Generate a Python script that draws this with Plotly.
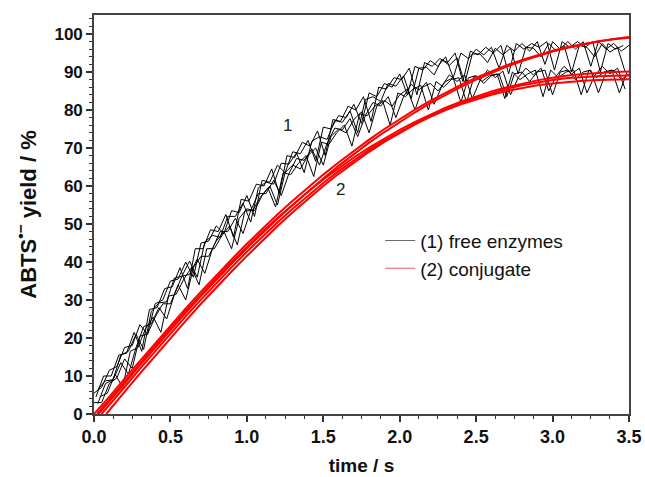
import numpy as np
import plotly.graph_objects as go

# ---------------- data ----------------
# free enzymes, replicates sampled every 0.05 s; each with its own first sample time
BLACK_U1 = [5.5, 7.0, 11.5, 12.5, 17.5, 18.0, 23.5, 21.0, 29.0, 30.0,
            35.0, 35.5, 40.0, 36.0, 45.0, 45.5, 49.5, 47.5, 53.5, 53.0,
            57.5, 52.0, 61.5, 61.0, 65.5, 63.5, 69.0, 68.5, 72.0, 66.5,
            75.5, 75.0, 78.5, 78.0, 81.5, 76.5, 84.5, 83.5, 87.0, 86.0,
            89.5, 84.0, 91.5, 90.5, 93.0, 91.5, 94.0, 88.5, 95.0, 93.5,
            96.0, 94.5, 96.5, 91.0, 97.0, 95.5, 97.5, 95.5, 98.0, 92.0,
            98.0, 96.0, 98.0, 96.0, 98.0, 91.5, 98.0, 96.0, 97.5, 95.5,
            97.0]
BLACK_U2 = [6.5, 8.75, 9.0, 15.5, 16.5, 21.0, 17.0, 27.0, 29.25, 29.5,
            35.75, 36.25, 40.25, 36.0, 45.25, 47.0, 46.5, 52.0, 52.0, 55.5,
            50.5, 59.5, 61.0, 60.5, 66.0, 65.75, 68.75, 63.5, 71.75, 73.0,
            72.25, 77.25, 76.75, 79.75, 74.0, 82.75, 83.5, 82.25, 87.0, 86.25,
            89.0, 83.0, 91.0, 91.25, 89.25, 93.25, 91.75, 93.75, 87.0, 94.75,
            94.75, 92.5, 96.25, 94.5, 96.25, 89.5, 96.5, 96.25, 94.0, 97.5,
            95.5, 97.0, 90.0, 97.0, 96.5, 94.0, 97.5, 95.25, 96.5, 90.0]
BLACK_U3 = [4.5, 10.0, 10.0, 15.5, 16.0, 21.5, 16.5, 27.5, 28.0, 33.0,
            33.5, 38.5, 33.0, 43.5, 43.5, 48.5, 48.0, 52.5, 46.5, 56.5,
            56.0, 60.5, 60.0, 64.5, 58.0, 68.0, 67.5, 71.5, 70.5, 74.5,
            68.0, 77.5, 77.0, 81.0, 80.0, 83.5, 77.0, 86.0, 85.5, 88.5,
            88.0, 91.0, 84.0, 92.5, 91.5, 93.5, 92.5, 95.0, 87.5, 95.5,
            94.5, 96.5, 95.0, 97.0, 89.5, 97.5, 96.0, 97.5, 96.5, 98.0,
            90.5, 98.0, 96.5, 98.0, 96.5, 98.0, 90.0, 97.5, 96.0, 97.0]
BLACK_L1 = [3.0, 3.0, 8.0, 9.5, 14.5, 12.0, 20.5, 21.0, 25.5, 29.0,
            29.0, 34.0, 30.0, 38.5, 41.5, 41.5, 45.5, 48.0, 43.5, 51.5,
            54.0, 53.5, 57.5, 60.0, 55.0, 63.5, 65.5, 64.5, 68.0, 70.0,
            65.5, 73.0, 75.0, 74.0, 77.5, 79.5, 74.0, 81.0, 82.5, 81.0,
            84.0, 85.5, 80.0, 86.0, 87.0, 85.0, 87.5, 88.5, 82.0, 88.5,
            89.0, 87.0, 89.0, 89.5, 83.5, 89.5, 90.0, 87.5, 90.0, 90.5,
            84.0, 90.0, 90.5, 88.0, 90.0, 90.5, 84.5, 90.0, 90.5, 88.0,
            89.5]
BLACK_L2 = [2.75, 8.0, 9.0, 13.5, 10.5, 17.5, 23.0, 23.75, 28.0, 25.0,
            31.25, 36.25, 36.75, 40.75, 37.0, 43.5, 48.0, 48.0, 51.5, 47.5,
            53.5, 58.0, 58.0, 61.5, 57.5, 63.25, 67.25, 66.75, 69.75, 65.5,
            71.25, 75.25, 74.75, 77.75, 73.0, 78.5, 82.0, 81.0, 83.5, 78.0,
            83.5, 86.75, 85.25, 87.25, 81.5, 86.25, 89.25, 87.5, 89.25, 83.0,
            87.75, 90.5, 88.5, 90.25, 84.0, 88.5, 91.0, 89.25, 91.0, 85.0,
            89.0, 91.5, 89.5, 91.0, 84.5, 89.0, 91.5, 89.5, 91.0, 85.5]
BLACK_L3 = [4.5, 5.5, 10.5, 7.0, 16.5, 17.5, 22.5, 25.5, 21.5, 31.0,
            31.5, 35.5, 38.5, 34.0, 43.5, 43.5, 47.0, 49.5, 44.5, 53.5,
            53.5, 57.0, 59.5, 54.5, 63.5, 63.0, 66.0, 68.0, 62.5, 71.5,
            71.0, 74.0, 76.0, 70.5, 79.0, 78.5, 81.0, 82.5, 76.0, 84.5,
            83.5, 85.5, 86.5, 80.0, 87.5, 86.0, 88.0, 88.5, 82.0, 89.0,
            87.5, 89.0, 89.5, 83.0, 90.0, 88.0, 89.5, 90.5, 83.5, 90.5,
            88.5, 90.0, 90.5, 84.0, 90.5, 88.5, 90.0, 90.5, 84.5, 90.0]
BLACK_SERIES = [(0.0, BLACK_U1), (0.025, BLACK_U2), (0.0125, BLACK_U3),
                (0.0, BLACK_L1), (0.025, BLACK_L2), (0.0375, BLACK_L3)]
BLACK_STEP = 0.05

# conjugate, replicates: start time (yield 0) then values every 0.1 s from 0.1 s to 3.5 s
RED_STARTS = [0.0, 0.03, 0.02, 0.05, 0.08]
RED_R1 = [4.5, 9.3, 14, 18.7, 23.3, 27.8, 32.2, 36.5, 40.7, 44.8, 48.7, 52.5, 56.1, 59.6, 63,
          66.2, 69.3, 72.2, 75, 77.6, 80.1, 82.4, 84.6, 86.6, 88.5, 90.2, 91.8, 93.2, 94.5,
          95.6, 96.6, 97.4, 98.1, 98.7, 99.2]
RED_R2 = [3.2, 8, 12.8, 17.5, 22.1, 26.6, 31, 35.3, 39.5, 43.6, 47.6, 51.4, 55, 58.6, 62,
          65.3, 68.4, 71.4, 74.2, 76.9, 79.4, 81.8, 84, 86.1, 88, 89.8, 91.4, 92.9, 94.2,
          95.4, 96.4, 97.3, 98, 98.6, 99]
RED_R3 = [3.8, 8.6, 13.3, 18, 22.6, 27.1, 31.5, 35.8, 40, 44, 47.9, 51.6, 55.1, 58.5, 61.7,
          64.7, 67.5, 70.1, 72.5, 74.8, 76.9, 78.8, 80.6, 82.2, 83.6, 84.9, 86, 87, 87.8,
          88.5, 89.1, 89.5, 89.8, 90, 90.1]
RED_R4 = [2.3, 7.1, 11.9, 16.6, 21.2, 25.7, 30.1, 34.4, 38.6, 42.7, 46.6, 50.4, 54, 57.5, 60.8,
          63.9, 66.8, 69.5, 72, 74.3, 76.4, 78.4, 80.2, 81.8, 83.2, 84.5, 85.6, 86.5, 87.3,
          87.9, 88.4, 88.7, 88.9, 89, 89.1]
RED_R5 = [1, 5.8, 10.6, 15.3, 20, 24.5, 29, 33.3, 37.5, 41.6, 45.6, 49.4, 53.1, 56.6, 60,
          63.2, 66.2, 69, 71.6, 74, 76.2, 78.2, 80, 81.5, 82.8, 84, 85, 85.8, 86.5,
          87, 87.4, 87.7, 87.9, 88, 88.1]
RED_SERIES = [RED_R1, RED_R2, RED_R3, RED_R4, RED_R5]
RED_STEP = 0.1

LEGEND_NAMES = ["(1) free enzymes", "(2) conjugate"]
CURVE_LABELS = [("1", 1.265, 76), ("2", 1.61, 59)]
X_TICKS = [0.0, 0.5, 1.0, 1.5, 2.0, 2.5, 3.0, 3.5]
Y_TICKS = [0, 10, 20, 30, 40, 50, 60, 70, 80, 90, 100]

# ---------------- figure ----------------
fig = go.Figure()

for t0, vals in BLACK_SERIES:
    t = t0 + BLACK_STEP * np.arange(len(vals))
    fig.add_trace(go.Scatter(
        x=t, y=vals, mode="lines",
        line=dict(color="#000000", width=1),
        showlegend=False, hoverinfo="skip",
    ))

for t0, vals in zip(RED_STARTS, RED_SERIES):
    t = np.concatenate([[t0], RED_STEP * np.arange(1, len(vals) + 1)])
    y = [0] + list(vals)
    fig.add_trace(go.Scatter(
        x=t, y=y, mode="lines",
        line=dict(color="#ff0000", width=2),
        showlegend=False, hoverinfo="skip",
    ))

# legend entries (thin sample lines as in the original)
for name, col in zip(LEGEND_NAMES, ["#666666", "#e85a5a"]):
    fig.add_trace(go.Scatter(x=[None], y=[None], mode="lines",
                             line=dict(color=col, width=1), name=name))

for txt, xv, yv in CURVE_LABELS:
    fig.add_annotation(x=xv, y=yv, text=txt, showarrow=False,
                       font=dict(size=17, color="#222"))

FONT = "Arial, Liberation Sans, sans-serif"
axis_common = dict(
    showline=True, linecolor="#444", linewidth=1.6, mirror=True,
    ticks="outside", ticklen=6, tickwidth=1.5, tickcolor="#333",
    showgrid=False, zeroline=False, automargin=False,
)

fig.update_layout(
    width=645, height=477,
    margin=dict(l=94, r=16, t=15, b=63),
    paper_bgcolor="white", plot_bgcolor="white",
    font=dict(family=FONT, color="#111"),
    xaxis=dict(
        range=[0, 3.5], tickvals=X_TICKS, ticktext=[f"<b>{v:.1f}</b>" for v in X_TICKS],
        tickfont=dict(family=FONT, size=18, color="#111"),
        minor=dict(dtick=0.125, ticks="outside", ticklen=3.5, tickwidth=1.2, tickcolor="#333"),
        title=dict(text="<b>time / s</b>", font=dict(family=FONT, size=19), standoff=12),
        **axis_common,
    ),
    yaxis=dict(
        range=[0, 105], tickvals=Y_TICKS, ticktext=[f"<b>{v}</b>" for v in Y_TICKS],
        tickfont=dict(family=FONT, size=17, color="#111"),
        minor=dict(tick0=0, dtick=2, ticks="outside", ticklen=3.5, tickwidth=1.2, tickcolor="#333"),
        title=dict(text="<b>ABTS<sup>•−</sup> yield / %</b>", font=dict(family=FONT, size=22), standoff=12),
        **axis_common,
    ),
    legend=dict(
        x=0.535, y=0.482, xanchor="left", yanchor="top",
        bgcolor="rgba(0,0,0,0)", font=dict(family=FONT, size=19, color="#111"),
        tracegroupgap=0, itemwidth=30,
    ),
    showlegend=True,
)

fig.write_html("out.html", config={"displayModeBar": False},
               post_script="document.body.style.margin='0';")
